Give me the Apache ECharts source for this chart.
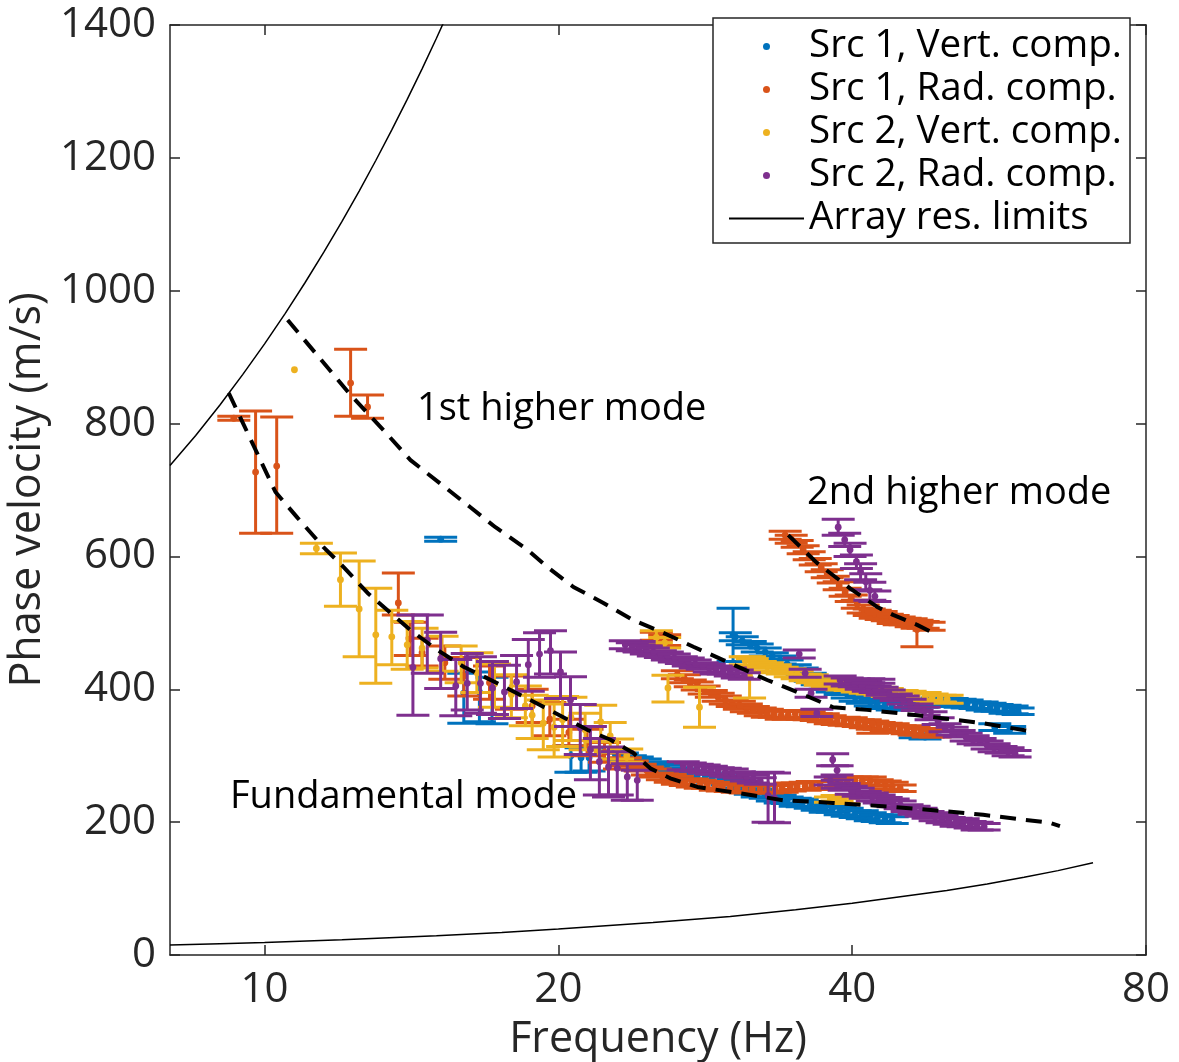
<!DOCTYPE html>
<html>
<head>
<meta charset="utf-8">
<script src="https://cdn.jsdelivr.net/npm/echarts@6/dist/echarts.min.js"></script>
<style>
  html, body { margin: 0; padding: 0; background: #ffffff; }
  #chart { width: 1179px; height: 1062px; }
</style>
</head>
<body>
<div id="chart"></div>
<script>
// Phase-velocity dispersion picks: [frequency Hz, velocity m/s, error below, error above (optional, defaults to error below)]
const src1Vert = [
  [15.15,626,3],
  [16.0,394,45,30],[16.6,396,45,30],[17.1,388,40,30],
  [20.6,300,25,15],[21.1,297,22,15],[21.5,297,20,15],
  [22.88,301,6],[23.26,298,6],[23.70,295,5],[24.09,292,6],[24.55,289,6],[24.96,286,5],[25.44,283,6],[25.86,280,6],
  [26.35,277,5],[26.79,274,6],[27.30,271,6],[27.75,269,5],[28.28,268,6],[28.75,266,6],[29.30,265,5],[29.79,262,6],
  [30.36,257,6],[30.86,253,5],[31.45,248,6],[31.97,244,6],[32.58,241,5],[33.13,238,6],[33.75,235,6],[34.31,233,5],
  [34.97,230,6],[35.55,229,6],[36.23,226,5],[36.83,224,6],[37.53,221,6],[38.16,220,5],[38.88,217,6],[39.53,215,6],
  [40.28,212,5],[40.96,211,6],[41.74,208,6],[42.43,206,5],[43.24,205,6],[43.96,203,5],
  [30.2,482,40],
  [30.36,479,6],[30.86,473,6],[31.45,467,5],[31.97,462,6],[32.58,456,6],[33.13,450,5],[33.75,444,6],[34.31,438,6],
  [34.97,432,5],[35.55,426,6],[36.23,418,6],[36.83,412,5],[37.53,406,6],[38.16,402,6],[38.88,397,5],[39.53,393,6],
  [40.28,388,6],[40.96,384,5],[41.74,381,6],[42.43,378,6],[43.24,376,5],[43.96,375,6],[44.79,375,6],[45.53,376,5],
  [46.40,378,6],[47.17,379,6],[48.07,379,5],[48.87,381,6],[49.80,381,6],[50.64,381,5],[51.60,379,6],[52.46,378,6],
  [53.45,376,5],[54.35,375,6],[55.38,373,6],[56.30,372,5],[57.37,370,6],[58.33,369,6],[59.16,367,5],
  [46.4,330,3],[47.5,328,3],[56.0,343,5],[58.0,339,5]
];

const src1Rad = [
  [9.30,808,3],[9.79,727,92],[10.29,736,101,74],[12.25,861,50,51],[12.75,825,17,18],[13.71,530,18,45],
  [14.1,476,25],[14.5,455,20,22],[15.3,440,25],[16.0,420,30,28],[17.0,410,25],[17.9,395,25],[18.8,375,25],
  [19.6,355,25],[20.5,335,20],[21.4,320,20],[22.3,305,15],[23.1,292,12],
  [23.42,291,6],[23.81,286,6],[24.26,282,5],[24.67,277,6],[25.14,274,6],[25.56,269,5],[26.04,266,6],[26.48,263,6],
  [26.98,260,5],[27.43,259,6],[27.95,257,6],[28.42,256,5],[28.96,254,6],[29.44,253,6],[30.00,251,5],[30.50,251,6],
  [31.08,250,6],[31.60,250,5],[32.20,250,6],[32.74,250,6],[33.36,250,5],[33.91,251,6],[34.56,253,6],[35.13,254,5],
  [35.80,254,6],[36.40,255,6],[37.09,256,5],[38.88,260,6],[39.53,262,6],[40.28,263,5],[40.96,262,6],[41.74,262,6],
  [42.43,259,5],[43.24,256,6],[43.96,254,6],[44.79,251,5],
  [25.2,480,6],[25.7,474,8],
  [26.48,422,6],[26.92,416,6],[27.30,409,5],[27.75,405,6],[28.21,399,6],[28.69,393,5],[29.16,388,6],[29.65,384,6],
  [30.14,379,5],[30.65,376,6],[31.16,372,6],[31.68,369,5],[32.20,366,6],[32.74,364,6],[33.28,363,5],[33.83,361,6],
  [34.39,361,6],[34.97,363,5],[35.55,361,6],[36.14,360,6],[36.75,358,5],[37.36,357,6],[37.98,354,6],[38.61,352,5],
  [39.25,352,6],[39.91,351,6],[40.57,349,5],[41.25,348,6],[41.94,346,6],[42.63,345,5],[43.34,343,6],[44.06,342,6],
  [44.79,340,5],[45.53,339,6],[46.29,337,6],[47.06,336,5],[47.84,334,6],[48.64,333,5],
  [42.0,348,14,4],
  [34.15,632,6],[34.64,626,6],[35.13,619,5],[35.63,610,6],[36.14,601,6],[36.66,592,5],[37.18,583,6],[37.71,574,6],
  [38.25,565,5],[38.79,556,6],[39.34,546,6],[39.91,537,5],[40.48,528,6],[41.05,521,6],[41.64,516,5],[42.23,513,6],
  [42.83,511,6],[43.45,508,5],[44.06,505,6],[44.69,503,6],[45.32,502,5],[45.97,500,6],[46.62,498,6],[47.29,497,5],
  [47.96,495,6],
  [46.6,490,26,8]
];

const src2Vert = [
  [10.73,881,0],[11.3,612,8],
  [11.96,565,40],[12.5,521,72],[13.0,482,73,70],[13.5,479,42,40],[14.0,467,37,35],[14.5,462,30],[15.2,452,25,28],
  [15.9,440,30,25],[16.5,425,30],[17.2,408,35,30],[17.9,392,35,30],[18.5,375,30],[18.8,361,35,30],[19.3,349,40,35],
  [19.8,343,45,35],[20.2,354,40,35],[20.6,358,35,30],[21.3,339,30,25],[22.1,351,30,25],[22.6,330,25,20],
  [23.0,310,15],[23.5,300,10],
  [25.2,478,8,10],[25.7,470,8],[25.9,402,21,19],[27.9,373,30],[31.4,420,33,29],
  [31.08,443,6],[31.60,440,6],[32.20,437,5],[32.74,434,6],[33.36,431,6],[33.91,428,5],[34.56,425,6],[35.13,422,6],
  [35.80,418,5],[36.40,416,6],[37.09,412,6],[37.71,409,5],[38.43,406,6],[39.07,405,6],[39.81,403,5],[40.48,402,6],
  [41.25,400,6],[41.94,398,5],[42.73,397,6],[43.45,395,6],[44.27,393,5],[45.00,392,6],[45.86,391,6],[46.62,390,5],
  [47.51,389,6],[48.30,387,6],[49.22,386,5],[50.04,385,6],
  [38.0,234,4],[38.6,236,4],[39.2,232,4]
];

const src2Rad = [
  [14.19,433,72,79],[14.68,474,50,38],[15.15,446,45,40],[15.70,405,45,40],[16.13,409,40,45],[16.64,409,45,40],
  [17.12,402,40],[17.61,396,40],[18.12,411,40],[18.63,437,40,38],[19.13,453,35,32],[19.63,458,35,30],
  [20.10,426,40,30],[20.58,384,40,35],[21.06,342,40,35],[21.57,309,45,35],[22.03,291,50,35],[22.51,283,45,30],
  [22.98,281,40,25],[23.53,268,35,20],[24.09,263,30,15],
  [24.2,464,8],
  [23.42,467,6],[23.81,464,6],[24.20,462,5],[24.61,459,6],[25.02,456,6],[25.44,453,5],[25.86,450,6],[26.29,447,6],
  [26.73,444,5],[27.17,441,6],[27.62,438,6],[28.08,435,5],[28.55,432,6],[29.02,429,6],[29.51,428,5],[30.00,426,6],
  [30.50,423,6],[31.01,420,5],
  [35.3,453,6],[35.8,424,6],[36.3,394,6],[36.8,364,5,6],
  [40.6,412,3],[41.6,413,3],[42.6,412,3],
  [38.88,414,6],[39.53,411,6],[40.19,409,5],[40.86,406,6],[41.55,403,6],[42.23,400,5],[42.93,397,6],[43.65,393,6],
  [44.38,388,5],[45.11,384,6],[45.86,379,6],[46.62,373,5],[47.40,367,6],[48.18,360,6],[48.99,352,5],[49.80,342,6],
  [50.64,337,6],[51.48,333,5],[52.34,328,6],[53.21,324,6],[54.09,321,5],[54.99,316,6],[55.91,312,6],[56.83,309,5],
  [57.78,306,6],[58.74,303,5],
  [26.85,285,6],[27.30,283,6],[27.75,282,5],[28.21,280,6],[28.69,278,6],[29.16,277,5],[29.65,275,6],[30.14,274,6],
  [30.65,271,5],[31.16,268,6],[31.68,265,6],[32.20,262,5],
  [32.8,240,40,35],[33.3,236,37,38],
  [38.2,294,9],[38.6,278,7],
  [37.98,262,6],[38.61,257,6],[39.25,253,5],[39.91,248,6],[40.57,245,6],[41.25,241,5],[41.94,238,6],[42.63,235,6],
  [43.34,232,5],[44.06,229,6],[44.79,226,6],[45.53,221,5],[46.29,218,6],[47.06,215,6],[47.84,211,5],[48.64,208,6],
  [49.45,205,6],[50.28,202,5],[51.11,200,6],[51.97,199,6],[52.83,196,5],[53.71,194,6],[54.61,193,5],
  [38.7,644,12],[39.3,625,10],[39.8,610,10],[40.4,592,10],[40.8,577,12],[41.3,562,12],[41.7,549,15,12],[42.2,540,8]
];

// Modelled dispersion curves [frequency, velocity]
const fundamentalMode = [
  [9.19,846],[10.26,697],[10.81,658],[11.49,614],[12.05,584],[12.75,545],[13.46,515],[14.11,489],[15.04,459],
  [15.99,434],[17.32,409],[19.17,376],[21.41,339],[22.61,324],[23.87,304],[24.84,281],[26.04,266],[27.76,253],
  [30.21,245],[33.99,233],[38.24,229],[43.02,224],[48.43,218],[54.48,211],[63.8,199],[65.3,194]
];
const firstHigherMode = [
  [10.56,956],[12.25,843],[13.24,790],[14.11,745],[16.25,674],[17.24,644],[18.59,610],[19.49,584],[20.72,554],
  [22.24,530],[23.87,504],[25.62,485],[27.50,464],[29.51,444],[32.73,414],[35.38,394],[38.24,373],[41.43,369],
  [46.62,361],[54.48,349],[61.3,336]
];
const secondHigherMode = [
  [34.4,632],[36.83,590],[39.8,552],[42.43,524],[44.05,512],[46.62,497],[48.88,482]
];

// Array resolution limits [frequency, velocity]
const arrayLimitHigh = [
  [8.0,737],[8.5,782],[9.0,828],[9.5,874],[10.0,920],[10.5,966],[11.0,1012],[11.5,1058],[12.0,1104],
  [12.5,1150],[13.0,1196],[13.5,1242],[14.0,1288],[14.5,1334],[15.0,1380],[15.3,1408]
];
const arrayLimitLow = [
  [8.0,15],[9.0,17],[10.0,19],[12.0,23],[15.0,29],[17.5,34],[20.0,39],[25.0,49],[30.0,58],[35.0,68],
  [40.0,78],[45.0,88],[50.0,97],[55.0,107],[60.0,117],[65.0,127],[70.6,139]
];

const xTickValues = [10, 20, 40, 80];
const seriesNames = ['Src 1, Vert. comp.', 'Src 1, Rad. comp.', 'Src 2, Vert. comp.', 'Src 2, Rad. comp.'];
const limitName = 'Array res. limits';
const modeLabels = ['1st higher mode', '2nd higher mode', 'Fundamental mode'];

const COLORS = ['#0072BD', '#D95319', '#EDB120', '#7E2F8E'];
const FONT = '"Open Sans", "DejaVu Sans", sans-serif';
const AXIS_COLOR = '#262626';
const AXIS_FONT_SIZE = 42;

function toRows(list) {
  return list.map(d => [d[0], d[1], d[2], d.length > 3 ? d[3] : d[2]]);
}

// Vertical error bar with caps plus a dot at the pick
function errorBarRenderer(color) {
  return function (params, api) {
    const f = api.value(0), v = api.value(1), lo = api.value(2), hi = api.value(3);
    const c = api.coord([f, v]);
    const dot = { type: 'circle', shape: { cx: c[0], cy: c[1], r: 3.4 }, style: { fill: color } };
    if (!lo && !hi) {
      return dot;
    }
    const top = api.coord([f, v + hi]);
    const bot = api.coord([f, v - lo]);
    const hw = 16.5;
    const style = { stroke: color, lineWidth: 3 };
    return {
      type: 'group',
      children: [
        { type: 'line', shape: { x1: c[0], y1: top[1], x2: c[0], y2: bot[1] }, style },
        { type: 'line', shape: { x1: c[0] - hw, y1: top[1], x2: c[0] + hw, y2: top[1] }, style },
        { type: 'line', shape: { x1: c[0] - hw, y1: bot[1], x2: c[0] + hw, y2: bot[1] }, style },
        dot
      ]
    };
  };
}

const pickSets = [src1Vert, src1Rad, src2Vert, src2Rad];
const pickSeries = pickSets.map((set, i) => ({
  name: seriesNames[i],
  type: 'custom',
  xAxisIndex: 0,
  yAxisIndex: 0,
  data: toRows(set),
  encode: { x: 0, y: 1 },
  itemStyle: { color: COLORS[i] },
  renderItem: errorBarRenderer(COLORS[i]),
  clip: true,
  z: 2 + i * 0.01
}));

function curve(name, data, dashed) {
  return {
    name: name,
    type: 'line',
    data: data,
    symbol: 'none',
    smooth: false,
    silent: true,
    clip: true,
    z: dashed ? 5 : 4,
    lineStyle: dashed
      ? { color: '#000', width: 4, type: [16, 10] }
      : { color: '#000', width: 1.5 },
    itemStyle: { color: '#000' }
  };
}

function xAxisDef(position, showLabels) {
  return {
    type: 'log',
    logBase: 10,
    min: 8,
    max: 80,
    position: position,
    axisLine: { show: true, onZero: false, lineStyle: { color: AXIS_COLOR, width: 1.5 } },
    axisTick: { show: true, inside: true, length: 10, customValues: xTickValues, lineStyle: { color: AXIS_COLOR, width: 1.5 } },
    axisLabel: { show: showLabels, customValues: xTickValues, fontSize: AXIS_FONT_SIZE, fontFamily: FONT, color: AXIS_COLOR, margin: 14 },
    splitLine: { show: false },
    minorTick: { show: false },
    name: showLabels ? 'Frequency (Hz)' : '',
    nameLocation: 'middle',
    nameGap: 63,
    nameTextStyle: { fontSize: 43, fontFamily: FONT, color: AXIS_COLOR }
  };
}

function yAxisDef(position, showLabels) {
  return {
    type: 'value',
    min: 0,
    max: 1400,
    interval: 200,
    position: position,
    axisLine: { show: true, onZero: false, lineStyle: { color: AXIS_COLOR, width: 1.5 } },
    axisTick: { show: true, inside: true, length: 10, lineStyle: { color: AXIS_COLOR, width: 1.5 } },
    axisLabel: {
      show: showLabels, fontSize: AXIS_FONT_SIZE, fontFamily: FONT, color: AXIS_COLOR, margin: 14,
      formatter: value => String(value)
    },
    splitLine: { show: false },
    name: showLabels ? 'Phase velocity (m/s)' : '',
    nameLocation: 'middle',
    nameGap: 118,
    nameTextStyle: { fontSize: 43, fontFamily: FONT, color: AXIS_COLOR }
  };
}

const chart = echarts.init(document.getElementById('chart'), null, { renderer: 'canvas' });

chart.setOption({
  animation: false,
  backgroundColor: '#ffffff',
  grid: { left: 170, right: 33, top: 25, bottom: 107, containLabel: false, outerBoundsMode: 'none' },
  xAxis: [xAxisDef('bottom', true), xAxisDef('top', false)],
  yAxis: [yAxisDef('left', true), yAxisDef('right', false)],
  legend: {
    orient: 'vertical',
    left: 728,
    top: 27,
    padding: 0,
    itemWidth: 75,
    itemHeight: 7,
    itemGap: 4,
    selectedMode: false,
    z: 10,
    textStyle: { fontSize: 38.6, lineHeight: 36, fontFamily: FONT, color: '#000' },
    data: seriesNames.map(n => ({ name: n, icon: 'circle' }))
      .concat([{ name: limitName, itemStyle: { opacity: 0 } }])
  },
  graphic: [
    {
      type: 'rect', z: 8,
      shape: { x: 713, y: 18, width: 417, height: 225 },
      style: { fill: '#ffffff', stroke: AXIS_COLOR, lineWidth: 1.5 }
    },
    {
      type: 'text', z: 8, x: 417, y: 409,
      style: { text: modeLabels[0], font: '38px ' + FONT, fill: '#000', verticalAlign: 'middle' }
    },
    {
      type: 'text', z: 8, x: 807, y: 493,
      style: { text: modeLabels[1], font: '38px ' + FONT, fill: '#000', verticalAlign: 'middle' }
    },
    {
      type: 'text', z: 8, x: 230, y: 797,
      style: { text: modeLabels[2], font: '38px ' + FONT, fill: '#000', verticalAlign: 'middle' }
    }
  ],
  series: pickSeries.concat([
    curve(limitName, arrayLimitHigh, false),
    curve(limitName, arrayLimitLow, false),
    curve('fundamental', fundamentalMode, true),
    curve('first higher', firstHigherMode, true),
    curve('second higher', secondHigherMode, true)
  ])
});
</script>
</body>
</html>
